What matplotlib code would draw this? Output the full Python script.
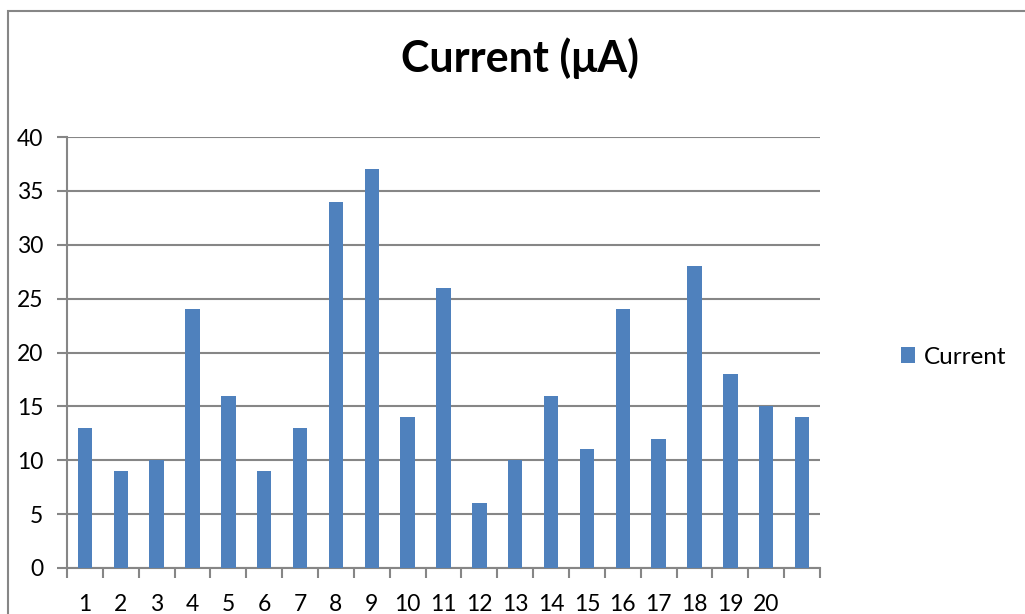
import matplotlib.pyplot as plt
import matplotlib.patches as mpatches
import numpy as np

plt.rcParams['font.family'] = ['Lato', 'DejaVu Sans']

# data
current = [13, 9, 10, 24, 16, 9, 13, 34, 37, 14, 26, 6, 10, 16, 11, 24, 12, 28, 18, 15, 14]
x_labels = [str(i) for i in range(1, 21)]
y_ticks = [0, 5, 10, 15, 20, 25, 30, 35, 40]

bar_color = "#4F81BD"
grey = "#868686"

W, H = 1025, 614
fig = plt.figure(figsize=(W / 100, H / 100), dpi=100)

# chart area border (only left and top visible in the original)
fig.add_artist(mpatches.Rectangle((8 / W, -0.1), 1.2, 1 - 11 / H + 0.1,
                                  transform=fig.transFigure, fill=False,
                                  edgecolor=grey, linewidth=1.5))

ax = fig.add_axes([67 / W, 1 - 568 / H, (820 - 67) / W, (568 - 137) / H])
pos = np.arange(len(current)) + 0.5
ax.bar(pos, current, width=0.4, color=bar_color, zorder=3, label="Current")

ax.set_xlim(0, len(current))
ax.set_ylim(0, 40)
ax.set_yticks(y_ticks)
ax.set_yticklabels([str(v) for v in y_ticks], fontsize=16.5)
ax.set_xticks(pos[:len(x_labels)])
ax.set_xticklabels(x_labels, fontsize=16.5)
ax.set_xticks(np.arange(0, len(current) + 1), minor=True)
ax.tick_params(axis="x", which="major", length=0, pad=19)
ax.tick_params(axis="x", which="minor", length=7, width=1.5, color=grey, direction="out")
ax.tick_params(axis="y", length=7, width=1.5, color=grey, pad=10)
ax.yaxis.grid(True, color=grey, linewidth=1.5, zorder=0)
ax.set_axisbelow(True)

for s in ["top", "right"]:
    ax.spines[s].set_visible(False)
for s in ["left", "bottom"]:
    ax.spines[s].set_color(grey)
    ax.spines[s].set_linewidth(1.5)

fig.text(520 / W, 1 - 58 / H, "Current (μA)", fontsize=31, fontweight="bold",
         ha="center", va="center")

fig.legend(loc="center left", bbox_to_anchor=(879 / W, 1 - 357 / H), frameon=False,
           fontsize=17.5, handlelength=0.6, handleheight=0.6, handletextpad=0.35)

fig.savefig("out.png", dpi=100)
